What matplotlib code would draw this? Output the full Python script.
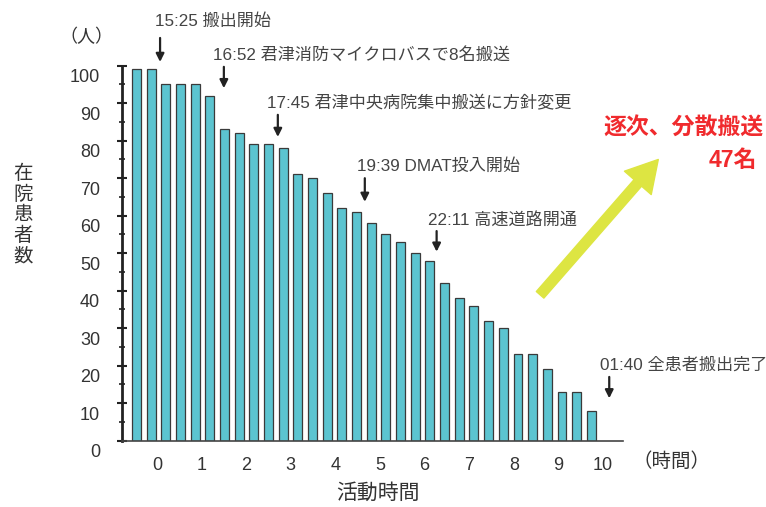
import matplotlib
matplotlib.use("Agg")
import matplotlib.pyplot as plt
import matplotlib.transforms as mtransforms
import numpy as np

plt.rcParams['font.family'] = ['Liberation Sans', 'Noto Sans CJK JP', 'DejaVu Sans']

# 在院患者数 (20分ごと)
patients = [99, 99, 95, 95, 95, 92, 83, 82, 79, 79, 78, 71, 70, 66, 62, 61,
            58, 55, 53, 50, 48, 42, 38, 36, 32, 30, 23, 23, 19, 13, 13, 8]
hours = list(range(11))
y_ticks = [0, 10, 20, 30, 40, 50, 60, 70, 80, 90, 100]

# events: (text, text x/y, arrow x, arrow top, arrow tip)
events = [
    ("15:25 搬出開始", -0.04, 112.0, 0.07, 107.4, 101.0),
    ("16:52 君津消防マイクロバスで8名搬送", 1.26, 102.9, 1.50, 99.7, 94.0),
    ("17:45 君津中央病院集中搬送に方針変更", 2.46, 90.0, 2.71, 86.9, 81.0),
    ("19:39 DMAT投入開始", 4.48, 73.1, 4.66, 70.0, 63.7),
    ("22:11 高速道路開通", 6.08, 58.9, 6.27, 55.9, 50.4),
    ("01:40 全患者搬出完了", 9.93, 20.2, 10.14, 17.0, 11.3),
]

txt = '#333333'
x = np.arange(len(patients)) * 0.329 - 0.46

fig = plt.figure(figsize=(7.66, 5.07), dpi=100)
ax = fig.add_axes([0.1589, 0.1308, 0.6545, 0.7396])

ax.bar(x, patients, width=0.2, color='#5cc4d0', edgecolor='#3a3a3a', linewidth=0.9)

ax.set_xlim(-0.79, 10.45)
ax.set_ylim(0, 100)
for s in ['top', 'right']:
    ax.spines[s].set_visible(False)
ax.spines['left'].set_linewidth(2)
ax.spines['bottom'].set_linewidth(1.2)
ax.spines['left'].set_color('#222222')
ax.spines['bottom'].set_color('#444444')

ax.set_xticks(hours)
ax.set_xticklabels([str(h) for h in hours])
ax.tick_params(axis='x', length=0, pad=12, labelsize=13, labelcolor=txt)
ax.set_yticks(y_ticks)
ax.set_yticks(np.arange(5, 100, 10), minor=True)
ax.tick_params(axis='y', which='major', direction='inout', length=7, width=1.5,
               pad=12, labelsize=13, labelcolor=txt, color='#222222')
ax.tick_params(axis='y', which='minor', direction='inout', length=5, width=1.2, color='#222222')
off = mtransforms.ScaledTranslation(0, -0.10, fig.dpi_scale_trans)
for lab in ax.get_yticklabels():
    lab.set_transform(lab.get_transform() + off)

# labels
fig.text(23 / 766, 1 - 215 / 507, "在\n院\n患\n者\n数", ha='center', va='center',
         fontsize=14, linespacing=1.2, color=txt)
fig.text(86 / 766, 1 - 37 / 507, "（人）", ha='center', va='center', fontsize=13, color=txt)
fig.text(378 / 766, 1 - 493 / 507, "活動時間", ha='center', va='center', fontsize=15, color=txt)
fig.text(672 / 766, 1 - 462 / 507, "（時間）", ha='center', va='center', fontsize=14, color=txt)

for label, tx, ty, ax_x, a_top, a_tip in events:
    ax.text(tx, ty, label, ha='left', va='center', fontsize=12.3, color='#444444', clip_on=False)
    ax.annotate('', xy=(ax_x, a_tip), xytext=(ax_x, a_top), annotation_clip=False,
                arrowprops=dict(arrowstyle='-|>', color='#222222', lw=1.6, mutation_scale=12,
                                shrinkA=0, shrinkB=0))

# 逐次、分散搬送
ax.annotate('', xy=(11.24, 75.0), xytext=(8.59, 38.9), annotation_clip=False,
            arrowprops=dict(arrowstyle='simple,head_width=1.6,head_length=1.4,tail_width=0.45',
                            color='#dde542', mutation_scale=16, shrinkA=0, shrinkB=0))
fig.text(763 / 766, 1 - 127 / 507, "逐次、分散搬送", ha='right', va='center',
         fontsize=16.5, fontweight='bold', color='#f02a2d')
fig.text(733 / 766, 1 - 160 / 507, "47名", ha='center', va='center',
         fontsize=16.5, fontweight='bold', color='#f02a2d')

fig.savefig('out.png', dpi=100)
